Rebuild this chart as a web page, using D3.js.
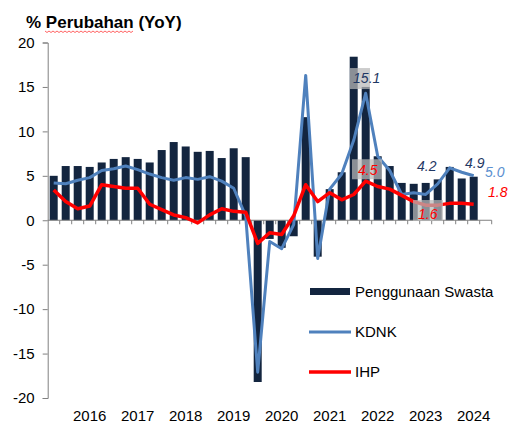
<!DOCTYPE html>
<html>
<head>
<meta charset="utf-8">
<script src="https://cdn.jsdelivr.net/npm/d3@7"></script>
<style>
  body { margin: 0; background: #fff; }
  svg text { font-family: "Liberation Sans", Arial, sans-serif; }
</style>
</head>
<body>
<div id="chart"></div>
<script>
// data
const quarters = [
    "2016Q1", "2016Q2", "2016Q3", "2016Q4", "2017Q1", "2017Q2", "2017Q3", "2017Q4",
    "2018Q1", "2018Q2", "2018Q3", "2018Q4", "2019Q1", "2019Q2", "2019Q3", "2019Q4",
    "2020Q1", "2020Q2", "2020Q3", "2020Q4", "2021Q1", "2021Q2", "2021Q3", "2021Q4",
    "2022Q1", "2022Q2", "2022Q3", "2022Q4", "2023Q1", "2023Q2", "2023Q3", "2023Q4",
    "2024Q1", "2024Q2", "2024Q3", "2024Q4"
];
const swasta = [5.0, 6.1, 6.1, 6.0, 6.5, 6.9, 7.1, 6.9, 6.5, 7.9, 8.8, 8.3, 7.7, 7.8, 7.0, 8.1,
    7.1, -18.2, -2.1, -3.1, -1.8, 11.6, -4.1, 3.5, 5.4, 18.4, 15.0, 7.2, 6.1, 4.2, 4.1, 4.2,
    4.6, 6.0, 4.7, 4.9];
const kdnk = [4.2, 4.1, 4.5, 4.8, 5.6, 5.8, 6.1, 5.7, 5.2, 4.8, 4.5, 4.8, 4.6, 4.9, 4.4, 3.6,
    0.5, -17.1, -2.4, -3.2, -0.5, 16.3, -4.3, 3.5, 5.2, 9.0, 14.3, 7.2, 5.6, 2.9, 3.1, 2.9,
    4.1, 5.9, 5.4, 5.0];
const ihp = [3.4, 2.1, 1.3, 1.6, 4.0, 3.8, 3.6, 3.6, 1.8, 1.2, 0.6, 0.3, -0.3, 0.6, 1.3, 1.0,
    0.9, -2.6, -1.4, -1.6, 0.5, 4.0, 2.1, 3.1, 2.3, 2.9, 4.4, 3.8, 3.5, 2.8, 2.1, 1.7,
    1.7, 1.9, 1.9, 1.8];
const yearLabels = ["2016", "2017", "2018", "2019", "2020", "2021", "2022", "2023", "2024"];
const yTicks = [-20, -15, -10, -5, 0, 5, 10, 15, 20];
const seriesNames = ["Penggunaan Swasta", "KDNK", "IHP"];

// annotated values: quarter, value, series
const notes = [
    { q: "2022Q3", v: 15.1, s: "swasta", box: true },
    { q: "2022Q3", v: 4.5, s: "ihp", box: true },
    { q: "2023Q4", v: 1.6, s: "ihp", box: true },
    { q: "2023Q4", v: 4.2, s: "swasta" },
    { q: "2024Q4", v: 4.9, s: "swasta" },
    { q: "2024Q4", v: 5.0, s: "kdnk" },
    { q: "2024Q4", v: 1.8, s: "ihp" }
];

const colors = { swasta: "#13253f", kdnk: "#4f81bd", ihp: "#ff0000" };
const noteColors = { swasta: "#1f3864", kdnk: "#5b8fd0", ihp: "#ff0000" };
// label / box offsets, in px from the data point
const noteLayout = [
    { dx: 1, dy: -8, box: [-15.7, -18, 20, 21] },
    { dx: 2, dy: -10, box: [-13.7, -21, 30, 20] },
    { dx: 2, dy: 8, box: [-12.7, -6, 30, 21] },
    { dx: 1, dy: -17 },
    { dx: 1, dy: -14 },
    { dx: 21, dy: -4 },
    { dx: 24, dy: -12 }
];

const width = 518, height = 436;
const left = 47.7, band = 12;

const svg = d3.select('#chart').append('svg')
    .attr('width', width)
    .attr('height', height);

// one empty slot after the last quarter, as in the original
const x = d3.scaleBand()
    .domain(quarters)
    .range([left, left + band * quarters.length]);
const axisEnd = left + band * (quarters.length + 1);

const y = d3.scaleLinear()
    .domain([-20, 20])
    .range([398, 42.5]);

const bw = x.bandwidth();

// bars
svg.append('g').selectAll('rect')
    .data(swasta)
    .join('rect')
    .attr('x', (d, i) => x(quarters[i]) + (bw - 8) / 2)
    .attr('width', 8)
    .attr('y', d => y(Math.max(0, d)))
    .attr('height', d => Math.abs(y(d) - y(0)))
    .attr('fill', colors.swasta);

// axes
const yAxis = svg.append('g')
    .attr('transform', `translate(${left},0)`)
    .call(d3.axisLeft(y).tickValues(yTicks).tickSize(5).tickPadding(8).tickFormat(d => String(d)));
yAxis.select('.domain').attr('stroke', '#808080');
yAxis.selectAll('.tick line').attr('stroke', '#808080');
yAxis.selectAll('.tick text')
    .attr('font-size', 15)
    .attr('fill', '#000')
    .style('font-family', '"Liberation Sans", Arial, sans-serif');

const xg = svg.append('g');
xg.append('line')
    .attr('x1', left).attr('x2', axisEnd)
    .attr('y1', y(0)).attr('y2', y(0))
    .attr('stroke', '#808080');
const bounds = quarters.map(q => x(q) + bw).concat([axisEnd]);
xg.selectAll('line.tk')
    .data(bounds)
    .join('line')
    .attr('class', 'tk')
    .attr('x1', d => d).attr('x2', d => d)
    .attr('y1', y(0)).attr('y2', y(0) + 4)
    .attr('stroke', '#808080');

svg.append('g').selectAll('text')
    .data(yearLabels)
    .join('text')
    .attr('x', d => x(d + "Q4") + bw / 2)
    .attr('y', 421)
    .attr('text-anchor', 'middle')
    .attr('font-size', 15)
    .text(d => d);

// lines
const line = d3.line()
    .x((d, i) => x(quarters[i]) + bw / 2)
    .y(d => y(d));

svg.append('path')
    .datum(kdnk)
    .attr('d', line)
    .attr('fill', 'none')
    .attr('stroke', colors.kdnk)
    .attr('stroke-width', 3)
    .attr('stroke-linejoin', 'round');

svg.append('path')
    .datum(ihp)
    .attr('d', line)
    .attr('fill', 'none')
    .attr('stroke', colors.ihp)
    .attr('stroke-width', 3.5)
    .attr('stroke-linejoin', 'round');

// annotations
const ng = svg.append('g');
notes.forEach((n, i) => {
    const L = noteLayout[i];
    const cx = x(n.q) + bw / 2, cy = y(n.v);
    if (n.box) {
        ng.append('rect')
            .attr('x', cx + L.box[0]).attr('y', cy + L.box[1])
            .attr('width', L.box[2]).attr('height', L.box[3])
            .attr('fill', '#b8b8b8')
            .attr('opacity', 0.72);
    }
    ng.append('text')
        .attr('x', cx + L.dx)
        .attr('y', cy + L.dy)
        .attr('dy', '0.35em')
        .attr('text-anchor', 'middle')
        .attr('font-size', 14)
        .attr('font-style', 'italic')
        .attr('fill', noteColors[n.s])
        .text(n.v.toFixed(1));
});

// legend
const lg = svg.append('g');
const legY = [291.5, 332, 372];
lg.append('rect')
    .attr('x', 310).attr('y', legY[0] - 3.5)
    .attr('width', 40).attr('height', 7)
    .attr('fill', colors.swasta);
lg.append('line')
    .attr('x1', 309).attr('x2', 351)
    .attr('y1', legY[1]).attr('y2', legY[1])
    .attr('stroke', colors.kdnk).attr('stroke-width', 3);
lg.append('line')
    .attr('x1', 309).attr('x2', 351)
    .attr('y1', legY[2]).attr('y2', legY[2])
    .attr('stroke', colors.ihp).attr('stroke-width', 3.5);
lg.selectAll('text')
    .data(seriesNames)
    .join('text')
    .attr('x', 355)
    .attr('y', (d, i) => legY[i])
    .attr('dy', '0.35em')
    .attr('font-size', 15)
    .text(d => d);

// title
svg.append('text')
    .attr('x', 26)
    .attr('y', 28)
    .attr('font-size', 17)
    .attr('font-weight', 'bold')
    .text('% Perubahan (YoY)');

// spell-check squiggle under "Perubahan"
let sq = 'M45,31';
for (let px = 45, k = 0; px < 133; px += 2, k++) {
    sq += ` L${px + 2},${k % 2 ? 31 : 32.5}`;
}
svg.append('path')
    .attr('d', sq)
    .attr('fill', 'none')
    .attr('stroke', '#ff3b3b')
    .attr('stroke-width', 0.8);
</script>
</body>
</html>
